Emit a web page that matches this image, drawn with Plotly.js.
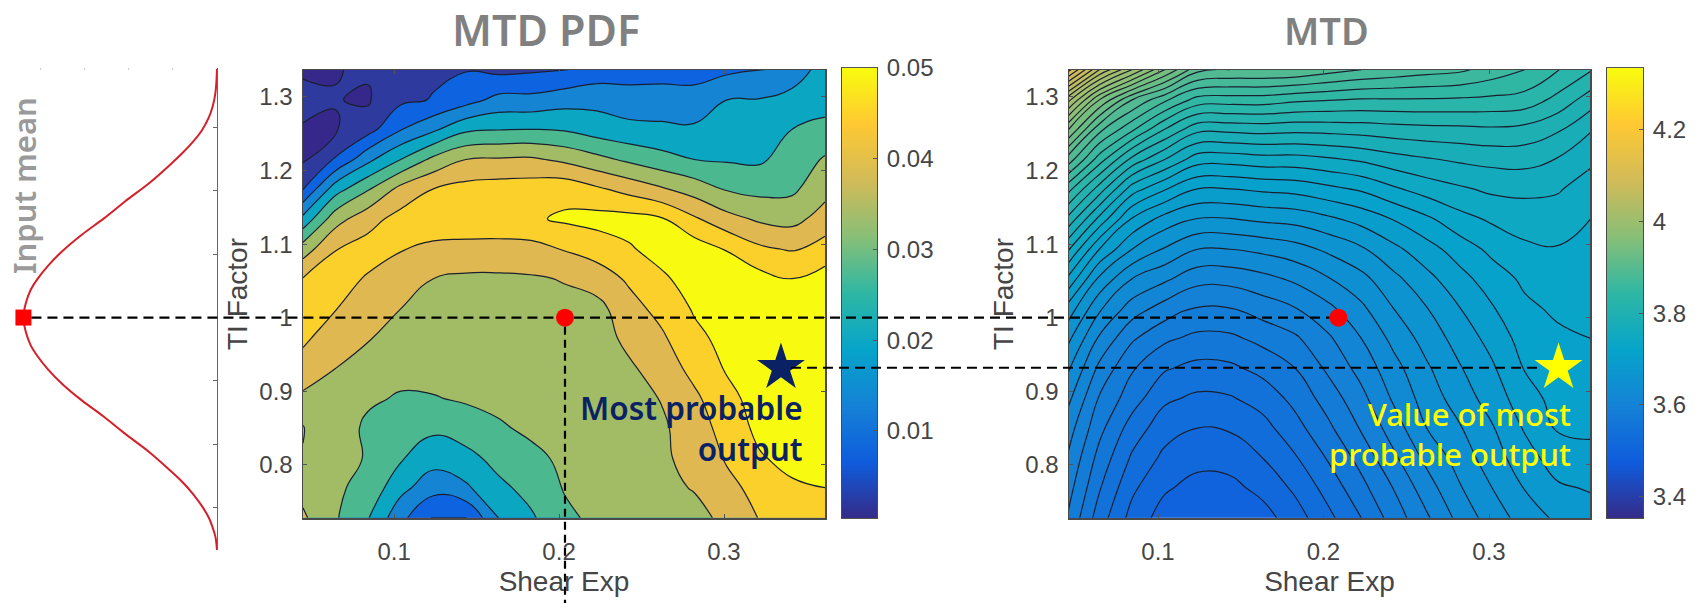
<!DOCTYPE html>
<html><head><meta charset="utf-8">
<script src="https://cdn.plot.ly/plotly-3.0.1.min.js"></script>
<style>html,body{margin:0;padding:0;background:#fff}#c{width:1699px;height:603px}</style>
</head><body><div id="c"></div>
<script>
// ---------- data ----------
const shearExp = [0.0448,0.0645,0.0843,0.1040,0.1238,0.1435,0.1633,0.1830,0.2030,0.2228,0.2425,0.2623,0.2820,0.3018,0.3215,0.3413,0.3612];
const tiFactor = [0.728,0.769,0.809,0.850,0.890,0.931,0.972,1.012,1.053,1.093,1.134,1.175,1.215,1.256,1.296,1.337];
// MTD PDF, in units of one contour step (bottom row first)
const pdfStep = 0.00625;
const pdfRows = [
[6.15,5.1,4.05,2.3,.9,.95,3.0,3.85,4.8,5.2,5.4,5.6,5.75,6.2,7.05,7.5,7.6],
[5.7,5.15,4.7,3.3,2.4,2.85,3.75,4.35,5.05,5.25,5.4,5.8,6.05,6.75,7.3,7.85,8.0],
[5.98,5.45,4.9,4.1,3.4,3.65,4.35,4.8,5.15,5.3,5.45,5.85,6.3,7.1,7.9,8.3,8.3],
[6.02,5.55,4.8,4.5,4.2,4.55,4.9,5.15,5.3,5.35,5.5,5.85,6.5,7.4,8.25,8.5,8.5],
[5.8,5.6,5.15,4.9,4.95,5.1,5.2,5.35,5.45,5.4,5.6,6.05,6.8,7.7,8.4,8.6,8.65],
[6.55,6.0,5.6,5.3,5.3,5.35,5.4,5.5,5.6,5.45,5.85,6.45,7.3,8.1,8.5,8.7,8.7],
[7.2,6.4,6.05,5.7,5.55,5.6,5.65,5.65,5.7,5.55,6.25,6.85,7.75,8.3,8.55,8.7,8.7],
[7.5,7.03,6.5,6.0,5.75,5.75,5.75,5.8,5.75,5.65,6.65,7.3,8.1,8.4,8.55,8.6,8.65],
[7.05,7.4,6.9,6.5,6.0,5.85,5.85,5.9,6.05,6.5,7.15,7.85,8.4,8.5,8.35,8.0,8.4],
[5.5,6.97,7.4,7.05,6.75,6.65,6.6,6.65,7.05,7.4,7.9,8.35,8.55,7.95,7.2,6.9,7.45],
[3.3,5.6,6.65,7.35,7.65,7.7,7.75,7.85,8.15,8.35,8.35,8.1,7.15,6.35,5.85,5.7,6.4],
[.95,3.55,4.9,6.3,7.0,7.35,7.45,7.5,7.65,7.15,6.65,6.1,5.55,4.9,4.7,4.8,5.7],
[.45,1.05,2.75,4.0,5.25,6.0,6.1,6.15,5.8,5.3,4.8,4.35,4.0,3.9,3.85,4.45,5.1],
[.45,.48,.62,1.95,2.8,3.8,3.95,4.0,3.9,3.5,3.25,3.2,3.15,3.45,3.5,4.0,4.35],
[.68,.51,.47,.8,1.05,1.6,2.3,2.3,2.6,2.7,2.5,2.45,2.4,3.0,3.05,3.25,3.5],
[.42,.49,.53,.7,.85,.95,.75,.85,.95,1.4,1.5,1.6,1.6,1.8,1.9,2.6,3.3]];
// MTD, in contour steps above the base value (bottom row first)
const mtdBase = 3.49, mtdStep = 0.0165;
const mtdRows = [
[6.0,3.5,1.65,.54,.05,.05,.6,1.55,2.75,4.0,5.45,6.85,8.3,9.5,10.4,11.2,11.5],
[6.5,4.1,2.2,1.14,.65,.72,1.3,2.2,3.4,4.7,6.05,7.55,8.9,10.0,11.05,11.85,12.1],
[7.0,4.65,2.85,1.75,1.32,1.4,2.0,2.9,4.1,5.35,6.8,8.25,9.4,10.55,11.55,12.5,12.75],
[7.55,5.3,3.55,2.42,2.0,2.1,2.65,3.65,4.8,6.1,7.5,9.0,9.9,10.9,12.1,13.1,13.15],
[8.35,5.9,4.45,3.18,2.8,2.9,3.4,4.3,5.45,6.7,8.15,9.45,10.45,11.45,12.55,13.35,13.45],
[9.25,6.75,5.1,4.1,3.7,3.8,4.3,5.0,6.2,7.35,8.65,9.85,10.9,11.85,13.05,13.6,13.7],
[10.35,7.85,6.15,5.2,4.75,4.8,5.3,5.85,6.85,8.0,9.3,10.4,11.4,12.35,13.42,13.8,14.0],
[11.7,9.15,7.5,6.55,5.9,5.95,6.45,6.95,7.75,8.78,10.0,10.95,11.95,12.9,13.78,14.17,14.25],
[13.95,10.8,9.0,8.2,7.35,7.35,7.7,8.2,8.95,9.7,10.75,11.7,12.65,13.5,14.2,14.55,14.5],
[16.25,13.0,11.0,9.9,9.0,9.0,9.25,9.6,10.2,10.85,11.75,12.6,13.45,14.25,14.8,14.93,14.75],
[18.85,15.7,12.9,11.6,10.95,10.95,11.2,11.35,11.8,12.35,13.05,13.8,14.65,15.15,15.45,15.5,15.0],
[21.5,18.55,15.5,14.1,13.0,13.0,13.2,13.35,13.75,14.15,14.85,15.45,15.85,16.2,16.25,16.1,15.55],
[24.7,21.5,18.7,17.0,15.45,15.4,15.6,15.6,15.85,16.15,16.6,16.9,17.15,17.3,17.35,16.95,16.2],
[28.3,24.3,22.2,20.0,18.3,18.3,18.4,18.3,18.35,18.45,18.6,18.7,18.75,18.85,18.7,18.15,17.1],
[32.55,28,25,23.2,21.6,21.5,21.5,21.2,21.05,20.9,20.9,20.9,20.85,20.75,20.6,19.7,18.5],
[38.6,34,31,28,25.3,25,25,24.9,24.4,24,23.7,23.4,23.2,22.6,22,21.05,20.1]];
// Input-mean density curve
const curveDensity = [0,.007,.019,.047,.091,.172,.273,.394,.515,.758,1.041,1.283,1.526,1.748,1.91,2.03,2.11,2.164,2.19,2.164,2.11,2.03,1.91,1.748,1.526,1.283,1.041,.758,.515,.394,.273,.172,.091,.047,.019,.007,0];
const curveInput  = [1.392,1.371,1.353,1.334,1.316,1.295,1.277,1.259,1.243,1.213,1.183,1.156,1.131,1.105,1.082,1.061,1.043,1.022,1.0,.978,.957,.939,.918,.895,.869,.844,.817,.787,.757,.741,.722,.703,.684,.668,.655,.644,.633];
// Marked points
const inputMean = 1, inputPeakDensity = 2.19;
const pdfInputShear = 0.2036, mtdInputShear = 0.209;
const pdfBestShear = 0.3345, mtdBestShear = 0.342, bestTI = 0.932;
// Tick labels
const shearTicks = [0.1,0.2,0.3];
const tiTicks = [0.8,0.9,1,1.1,1.2,1.3];
const tiTickText = ['0.8','0.9','1','1.1','1.2','1.3'];
const pdfBarTicks = [0.01,0.02,0.03,0.04,0.05];
const pdfBarText = ['0.01','0.02','0.03','0.04','0.05'];
const mtdBarTicks = [3.4,3.6,3.8,4,4.2];
const mtdBarText = ['3.4','3.6','3.8','4','4.2'];
// ---------- colours ----------
const parula = ['#352a87','#0f5cdd','#1481d6','#06a4ca','#2eb7a4','#87bf77','#d1bb59','#fec832','#f9fb0e'];
const pdfBandColors = ['rgba(0,0,0,0)','#0d63e0','#1584d2','#0aa6c2','#4cb88f','#a2bc66','#e0b852','#fcd02a','#f8fb10'];
function hexRgb(h){return [1,3,5].map(i=>parseInt(h.substr(i,2),16));}
function parulaAt(t){t=Math.max(0,Math.min(1,t));const p=t*(parula.length-1),i=Math.min(parula.length-2,Math.floor(p)),f=p-i;
  const a=hexRgb(parula[i]),b=hexRgb(parula[i+1]);return 'rgb('+a.map((v,n)=>Math.round(v+(b[n]-v)*f)).join(',')+')';}
const parulaScale = parula.map((c,i)=>[i/(parula.length-1),c]);
const pdfBarRange=[0.0004,0.05], mtdBarRange=[3.353,4.335];
function ramp(r){const n=100,ys=[],zs=[];for(let i=0;i<=n;i++){const v=r[0]+(r[1]-r[0])*i/n;ys.push(v);zs.push([v]);}return {y:ys,z:zs};}
// ---------- layout helpers ----------
const W=1699,H=603,fx=p=>p/W,fy=p=>1-p/H;
const TXT='#454545', FONT='"Liberation Sans",Arial,sans-serif';
const box={showline:true,mirror:'ticks',linecolor:'#4a4a4a',linewidth:1.5,ticks:'inside',ticklen:4,tickcolor:'#555',showgrid:false,zeroline:false,
  tickfont:{family:FONT,size:24,color:TXT}};
const xTitle={text:'Shear Exp',font:{family:FONT,size:28,color:TXT},standoff:7};
const yTitle={text:'TI Factor',font:{family:FONT,size:28,color:TXT},standoff:3};
const plotTop=70,plotBot=518;
const xR=[0.0448,0.3612],yR=[0.7278,1.3366];
const note=(px,py,text,size,color,weight,extra)=>Object.assign({xref:'paper',yref:'paper',x:fx(px),y:fy(py),xanchor:'center',yanchor:'middle',text,showarrow:false,
   font:{family:'"Noto Sans"',size,color,weight}},extra||{});
const layout={width:W,height:H,margin:{l:0,r:0,t:0,b:0},paper_bgcolor:'#fff',plot_bgcolor:'#fff',showlegend:false,
 xaxis:{domain:[0,fx(217)],range:[2.455,0],showline:false,showgrid:false,zeroline:false,side:'top',ticks:'inside',ticklen:2,tickcolor:'#ccc',tickvals:[0.5,1,1.5,2],showticklabels:false,anchor:'y'},
 yaxis:{domain:[fy(550),fy(68)],range:[0.6335,1.3935],side:'right',showline:true,linecolor:'#666',linewidth:1,showgrid:false,zeroline:false,ticks:'inside',ticklen:4,tickcolor:'#666',tickvals:[0.7,0.8,0.9,1,1.1,1.2,1.3],showticklabels:false,anchor:'x'},
 xaxis2:Object.assign({},box,{domain:[fx(303),fx(825)],range:xR,tickvals:shearTicks,ticktext:shearTicks.map(String),anchor:'y2',ticklabelstandoff:12,title:xTitle}),
 yaxis2:Object.assign({},box,{domain:[fy(plotBot),fy(plotTop)],range:yR,tickvals:tiTicks,ticktext:tiTickText,anchor:'x2',ticklabelstandoff:4,title:yTitle}),
 xaxis3:{domain:[fx(842),fx(877)],range:[0,1],showline:true,mirror:true,linecolor:'#555',showticklabels:false,ticks:'',showgrid:false,zeroline:false,anchor:'y3'},
 yaxis3:Object.assign({},box,{domain:[fy(plotBot),fy(68)],range:pdfBarRange,side:'right',mirror:true,linewidth:1,tickvals:pdfBarTicks,ticktext:pdfBarText,anchor:'x3',ticklabelstandoff:4}),
 xaxis4:Object.assign({},box,{domain:[fx(1069),fx(1590)],range:[0.0462,0.361],tickvals:shearTicks,ticktext:shearTicks.map(String),anchor:'y4',ticklabelstandoff:12,title:xTitle}),
 yaxis4:Object.assign({},box,{domain:[fy(plotBot),fy(plotTop)],range:yR,tickvals:tiTicks,ticktext:tiTickText,anchor:'x4',ticklabelstandoff:4,title:yTitle}),
 xaxis5:{domain:[fx(1607),fx(1643)],range:[0,1],showline:true,mirror:true,linecolor:'#555',showticklabels:false,ticks:'',showgrid:false,zeroline:false,anchor:'y5'},
 yaxis5:Object.assign({},box,{domain:[fy(plotBot),fy(68)],range:mtdBarRange,side:'right',mirror:true,linewidth:1,tickvals:mtdBarTicks,ticktext:mtdBarText,anchor:'x5',ticklabelstandoff:4}),
 annotations:[
  note(546,30,'MTD PDF',43,'#808080',600),
  note(1326,30,'MTD',38,'#808080',600),
  note(24,186,'Input mean',31,'#9a9a9a',600,{textangle:-90}),
  note(805,428,'Most probable<br>output',31.5,'#0a2264',600,{xanchor:'right',align:'right'}),
  note(1573,434,'Value of most<br>probable output',31,'#ffff00',500,{xanchor:'right',align:'right'})
 ]
};
function paperX(ax,v){const a=layout[ax],d=a.domain,r=a.range;return d[0]+(v-r[0])/(r[1]-r[0])*(d[1]-d[0]);}
function paperY(ax,v){const a=layout[ax],d=a.domain,r=a.range;return d[0]+(v-r[0])/(r[1]-r[0])*(d[1]-d[0]);}
const dash={color:'#000',width:2.2,dash:'10px,6px'};
const meanY=paperY('yaxis2',inputMean), bestY=paperY('yaxis2',bestTI);
const hline=(x0,x1,y)=>({type:'line',xref:'paper',yref:'paper',x0,x1,y0:y,y1:y,line:dash,layer:'above'});
const gapDot=fx(9);
layout.shapes=[
 hline(paperX('xaxis',inputPeakDensity)+fx(8),paperX('xaxis2',pdfInputShear)-gapDot,meanY),
 hline(paperX('xaxis2',pdfInputShear)+gapDot,paperX('xaxis4',mtdInputShear)-gapDot,meanY),
 {type:'line',xref:'paper',yref:'paper',x0:paperX('xaxis2',pdfInputShear),x1:paperX('xaxis2',pdfInputShear),y0:meanY-9/H,y1:0,line:{color:'#000',width:2.2,dash:'8px,5px'},layer:'above'},
 hline(paperX('xaxis2',pdfBestShear)+fx(10),paperX('xaxis4',mtdBestShear)-fx(16),bestY)
];
// ---------- traces ----------
const pdfZ=pdfRows.map(r=>r.map(v=>v*pdfStep));
const mtdZ=mtdRows.map(r=>r.map(v=>mtdBase+v*mtdStep));
const blackLine={color:'#1a2030',width:1.2,smoothing:1.3};
const pdfScale=pdfBandColors.map((c,i)=>[i/(pdfBandColors.length-1),c]);
const nMtd=40,mtdStart=mtdBase;
const mtdScale=[];for(let j=0;j<=nMtd;j++){const zc=mtdStart-mtdStep/2+j*mtdStep;mtdScale.push([j/nMtd,parulaAt((zc-mtdBarRange[0])/(mtdBarRange[1]-mtdBarRange[0]))]);}
const b1=ramp(pdfBarRange),b2=ramp(mtdBarRange);
const traces=[
 {type:'scatter',mode:'lines',x:curveDensity,y:curveInput,xaxis:'x',yaxis:'y',line:{color:'#d4202a',width:2,shape:'spline',smoothing:1}},
 {type:'scatter',mode:'markers',x:[inputPeakDensity],y:[inputMean],xaxis:'x',yaxis:'y',marker:{symbol:'square',size:16,color:'#ff0000'}},
 {type:'contour',x:shearExp,y:tiFactor,z:pdfZ,xaxis:'x2',yaxis:'y2',showscale:false,autocontour:false,colorscale:[[0,'#35288a'],[1,'#2e3a9e']],
  contours:{coloring:'fill',start:0.5*pdfStep,end:0.5*pdfStep,size:pdfStep,showlines:true},line:blackLine},
 {type:'contour',x:shearExp,y:tiFactor,z:pdfZ,xaxis:'x2',yaxis:'y2',showscale:false,autocontour:false,colorscale:pdfScale,
  contours:{coloring:'fill',start:pdfStep,end:8*pdfStep,size:pdfStep,showlines:true},line:blackLine},
 {type:'scatter',mode:'markers',x:[pdfInputShear],y:[inputMean],xaxis:'x2',yaxis:'y2',marker:{size:18,color:'#ff0000'}},
 {type:'scatter',mode:'markers',x:[pdfBestShear],y:[bestTI],xaxis:'x2',yaxis:'y2',marker:{symbol:'star',size:36,color:'#0a2264'}},
 {type:'heatmap',x:[0,1],y:b1.y,z:b1.z.map(r=>[r[0],r[0]]),xaxis:'x3',yaxis:'y3',colorscale:parulaScale,zmin:pdfBarRange[0],zmax:pdfBarRange[1],showscale:false,zsmooth:'best'},
 {type:'contour',x:shearExp,y:tiFactor,z:mtdZ,xaxis:'x4',yaxis:'y4',showscale:false,autocontour:false,colorscale:mtdScale,
  contours:{coloring:'fill',start:mtdStart,end:mtdStart+(nMtd-1)*mtdStep,size:mtdStep,showlines:true},line:blackLine},
 {type:'scatter',mode:'markers',x:[mtdInputShear],y:[inputMean],xaxis:'x4',yaxis:'y4',marker:{size:18,color:'#ff0000'}},
 {type:'scatter',mode:'markers',x:[mtdBestShear],y:[bestTI],xaxis:'x4',yaxis:'y4',marker:{symbol:'star',size:36,color:'#ffff00'}},
 {type:'heatmap',x:[0,1],y:b2.y,z:b2.z.map(r=>[r[0],r[0]]),xaxis:'x5',yaxis:'y5',colorscale:parulaScale,zmin:mtdBarRange[0],zmax:mtdBarRange[1],showscale:false,zsmooth:'best'}
];
Plotly.newPlot('c',traces,layout,{staticPlot:true,displayModeBar:false});
</script></body></html>
